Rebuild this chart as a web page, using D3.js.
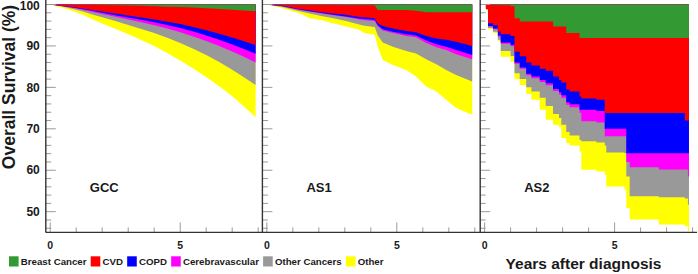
<!DOCTYPE html>
<html>
<head>
<meta charset="utf-8">
<script src="https://cdn.jsdelivr.net/npm/d3@7"></script>
<style>
  html, body { margin: 0; padding: 0; background: #fff; }
  svg text { font-family: "Liberation Sans", Arial, Helvetica, sans-serif; font-weight: bold; fill: #1a1a1a; }
</style>
</head>
<body>
<script>
// ---------- DATA (cumulative incidence, %, by cause) ----------
const causes = ["Breast Cancer", "CVD", "COPD", "Cerebravascular", "Other Cancers", "Other"];
const causeColors = ["#339933", "#ff0000", "#0000ff", "#ff00ff", "#999999", "#ffff00"];
const panelNames = ["GCC", "AS1", "AS2"];
const yTickLabels = [50, 60, 70, 80, 90, 100];
const xTickLabels = [0, 5];

// GCC
const gccYears  = [0, 1, 2, 3, 4, 5, 6, 7, 7.9];
const gccBreast = [0, 0.05, 0.1, 0.25, 0.4, 0.6, 0.9, 1.25, 1.6];
const gccCVD    = [0, 0.7, 1.6, 2.4, 3.2, 4.1, 5.3, 6.7, 8.2];
const gccCOPD   = [0, 0.1, 0.3, 0.5, 0.7, 1.0, 1.3, 1.7, 2.1];
const gccCereb  = [0, 0.1, 0.3, 0.5, 0.7, 1.0, 1.3, 1.7, 2.1];
const gccOthCa  = [0, 0.3, 0.8, 1.3, 1.9, 2.6, 3.4, 4.4, 5.4];
const gccOther  = [0, 0.6, 1.5, 2.2, 3.1, 4.2, 5.3, 6.4, 7.8];

// AS1
const as1Years  = [0, 0.6, 1.25, 1.65, 2.05, 2.55, 3.05, 3.55, 3.75, 4.15, 4.27, 4.46, 4.85, 5.36, 5.74, 6.13, 6.52, 6.9, 7.28, 7.9];
const as1Breast = [0, 0.05, 0.1, 0.1, 0.15, 0.15, 0.2, 0.2, 0.2, 0.2, 1.3, 1.3, 1.3, 1.3, 1.5, 1.9, 1.9, 1.9, 1.9, 1.9];
const as1CVD    = [0, 0.25, 1.0, 1.3, 1.65, 2.05, 2.3, 2.8, 2.9, 3.1, 3.2, 3.9, 4.5, 5.1, 5.2, 5.7, 6.3, 6.6, 7.1, 8.1];
const as1COPD   = [0, 0.1, 0.1, 0.2, 0.2, 0.3, 0.4, 0.4, 0.4, 0.4, 0.5, 0.8, 0.8, 0.8, 0.8, 1.1, 1.4, 1.7, 2.0, 2.2];
const as1Cereb  = [0, 0.05, 0.1, 0.1, 0.1, 0.1, 0.1, 0.2, 0.3, 0.3, 0.3, 0.3, 0.3, 0.4, 0.4, 0.6, 0.7, 0.8, 1.0, 1.0];
const as1OthCa  = [0, 0.15, 0.3, 0.5, 0.6, 0.7, 1.0, 1.2, 1.3, 1.4, 2.2, 2.9, 3.3, 3.6, 3.9, 3.9, 4.1, 4.8, 5.0, 5.4];
const as1Other  = [0, 0.3, 0.5, 1.1, 1.0, 1.2, 1.3, 1.3, 1.8, 1.9, 2.7, 4.2, 4.4, 4.6, 5.6, 6.6, 6.6, 7.2, 8.0, 8.0];

// AS2
const as2Years  = [0, 0.05, 0.13, 0.32, 0.51, 0.62, 1.0, 1.15, 1.35, 1.6, 1.8, 2.12, 2.35, 2.63, 2.86, 2.95, 3.14, 3.27, 3.65, 3.72, 4.3, 4.62, 4.68, 5.38, 5.45, 5.58, 6.7, 7.7, 7.82, 7.86];
const as2Breast = [0, 0, 0.1, 0.1, 0.2, 0.2, 0.4, 3.3, 4.1, 4.1, 4.1, 4.1, 4.1, 5.3, 5.3, 5.3, 6.9, 6.9, 8.1, 8.1, 8.1, 8.1, 8.1, 8.1, 8.1, 8.1, 8.1, 8.1, 8.1, 8.1];
const as2CVD    = [0, 1.0, 4.4, 4.9, 6.3, 7.0, 7.2, 8.1, 8.4, 9.9, 10.6, 11.4, 11.9, 12.1, 12.9, 13.5, 13.6, 14.1, 14.1, 14.6, 14.9, 18.1, 18.1, 18.1, 18.1, 18.1, 18.1, 19.9, 19.9, 19.9];
const as2COPD   = [0, 0, 0.7, 0.8, 1.0, 2.0, 2.2, 2.6, 2.7, 2.7, 2.7, 2.7, 3.0, 3.0, 3.0, 3.1, 3.1, 3.1, 3.2, 2.7, 2.7, 3.8, 3.8, 3.8, 9.7, 9.7, 9.7, 7.9, 7.9, 7.9];
const as2Cereb  = [0, 0, 0.1, 0.2, 0.2, 0.3, 0.3, 0.3, 0.3, 0.4, 0.4, 0.5, 0.5, 0.5, 0.5, 0.6, 0.6, 0.7, 0.7, 2.8, 2.8, 1.8, 1.8, 1.8, 2.1, 3.4, 3.9, 3.9, 5.6, 5.6];
const as2OthCa  = [0, 0.2, 0.4, 0.6, 0.8, 1.7, 2.3, 2.3, 2.5, 2.9, 3.2, 3.8, 5.0, 5.5, 5.7, 6.5, 6.6, 6.8, 6.6, 4.8, 4.8, 2.2, 3.9, 4.1, 3.5, 7.0, 6.7, 7.0, 6.8, 6.8];
const as2Other  = [0, 0.2, 0.3, 0.3, 0.3, 1.4, 1.4, 1.4, 1.4, 1.6, 2.0, 2.9, 3.3, 2.6, 2.2, 3.2, 2.7, 2.4, 2.8, 6.9, 7.0, 7.1, 8.2, 8.8, 7.6, 5.6, 6.6, 6.7, 6.4, 6.4];

// ---------- LAYOUT ----------
const W = 698, H = 274;
const svg = d3.select("body").append("svg").attr("width", W).attr("height", H);

const yBottom = 232.4, yTop = 4.5;
const y = d3.scaleLinear().domain([45, 100]).range([yBottom, yTop]);
const panelLefts = [45.8, 262.4, 480.2];
const panelWidth = 217.6;

const panels = [
  { name: panelNames[0], years: gccYears, series: [gccBreast, gccCVD, gccCOPD, gccCereb, gccOthCa, gccOther], curve: d3.curveMonotoneX },
  { name: panelNames[1], years: as1Years, series: [as1Breast, as1CVD, as1COPD, as1Cereb, as1OthCa, as1Other], curve: d3.curveLinear },
  { name: panelNames[2], years: as2Years, series: [as2Breast, as2CVD, as2COPD, as2Cereb, as2OthCa, as2Other], curve: d3.curveStepAfter }
];

panels.forEach((p, pi) => {
  const left = panelLefts[pi];
  const x = d3.scaleLinear().domain([-0.17, 8.2]).range([left, left + panelWidth]);
  const g = svg.append("g");

  const rows = p.years.map((t, j) => ({ t, v: p.series.map(s => s[j]) }));
  const stacked = d3.stack().keys(d3.range(causes.length)).value((d, k) => d.v[k])(rows);

  // draw from the bottom-most layer up, each filled from 100 down to its lower boundary (no seams)
  for (let k = stacked.length - 1; k >= 0; k--) {
    const area = d3.area()
      .x(d => x(d.data.t))
      .y0(() => y(100))
      .y1(d => y(100 - d[1]))
      .curve(p.curve);
    g.append("path").datum(stacked[k]).attr("d", area).attr("fill", causeColors[k]);
  }

  // y ticks (inside)
  const yTicks = d3.range(46, 101, 2);
  g.selectAll(".yt").data(yTicks).join("line")
    .attr("x1", left).attr("x2", d => left + (d % 10 === 0 ? 10 : 5.5))
    .attr("y1", d => y(d)).attr("y2", d => y(d))
    .attr("stroke", "#9a9a9a").attr("stroke-width", 1);

  // x ticks (upward)
  const xTicks = d3.range(0, 9);
  g.selectAll(".xt").data(xTicks).join("line")
    .attr("x1", d => x(d)).attr("x2", d => x(d))
    .attr("y1", yBottom).attr("y2", d => yBottom - (xTickLabels.includes(d) ? 10 : 5))
    .attr("stroke", "#9a9a9a").attr("stroke-width", 1);

  // y axis line
  g.append("line").attr("x1", left).attr("x2", left).attr("y1", 0).attr("y2", yBottom)
    .attr("stroke", "#333").attr("stroke-width", 1.4);

  // x tick labels
  g.selectAll(".xl").data(xTickLabels).join("text")
    .attr("x", d => x(d)).attr("y", 248.5).attr("text-anchor", "middle")
    .style("font-size", "10.5px").text(d => d);

  // y tick labels (first panel only)
  if (pi === 0) {
    g.selectAll(".yl").data(yTickLabels).join("text")
      .attr("x", left - 6).attr("y", d => Math.max(y(d) + 4.2, 9.8)).attr("text-anchor", "end")
      .style("font-size", "12px").text(d => d);
  }

  // panel label
  g.append("text").attr("x", left + 44).attr("y", 191.6)
    .style("font-size", "13px").text(p.name);
});

// x axis line
svg.append("line").attr("x1", panelLefts[0]).attr("x2", 697).attr("y1", yBottom).attr("y2", yBottom)
  .attr("stroke", "#333").attr("stroke-width", 1.4);

// y title
svg.append("text").attr("transform", "translate(15,87) rotate(-90)")
  .attr("text-anchor", "middle").style("font-size", "17.5px").text("Overall Survival (%)");

// x title
svg.append("text").attr("x", 583.5).attr("y", 268.5).attr("text-anchor", "middle")
  .style("font-size", "15.5px").text("Years after diagnosis");

// legend
const leg = svg.append("g");
let lx = 9;
causes.forEach((c, i) => {
  leg.append("rect").attr("x", lx).attr("y", 256.3).attr("width", 9.6).attr("height", 10.2).attr("fill", causeColors[i]);
  const t = leg.append("text").attr("x", lx + 11.8).attr("y", 265.2).style("font-size", "9.7px").text(c);
  lx += 11.8 + t.node().getComputedTextLength() + 4.2;
});
</script>
</body>
</html>
